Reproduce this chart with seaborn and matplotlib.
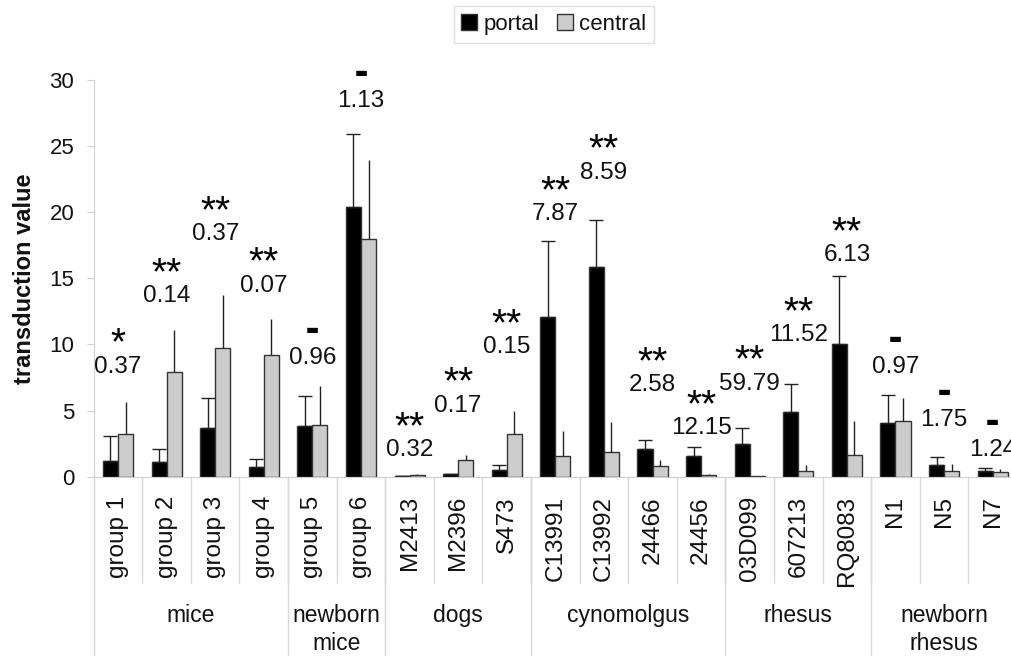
import numpy as np
import pandas as pd
import seaborn as sns
import matplotlib.pyplot as plt
from matplotlib.patches import Patch
from matplotlib.transforms import blended_transform_factory

# Waarden
categories = ['group 1', 'group 2', 'group 3', 'group 4', 'group 5', 'group 6',
              'M2413', 'M2396', 'S473', 'C13991', 'C13992', '24466', '24456',
              '03D099', '607213', 'RQ8083', 'N1', 'N5', 'N7']
portal = [1.21, 1.09, 3.67, 0.71, 3.80, 20.43, 0.04, 0.21, 0.48, 12.10, 15.87,
          2.12, 1.57, 2.45, 4.89, 10.00, 4.10, 0.86, 0.46]
central = [3.22, 7.89, 9.75, 9.20, 3.88, 17.97, 0.12, 1.23, 3.22, 1.53, 1.86,
           0.80, 0.13, 0.04, 0.43, 1.64, 4.23, 0.46, 0.36]
portal_err = [1.84, 1.01, 2.32, 0.63, 2.30, 5.47, 0.05, 0.0, 0.42, 5.74, 3.53,
              0.68, 0.65, 1.21, 2.11, 5.19, 2.10, 0.60, 0.19]
central_err = [2.42, 3.21, 4.01, 2.70, 3.00, 5.99, 0.05, 0.43, 1.78, 1.94, 2.30,
               0.43, 0.07, 0.0, 0.45, 2.57, 1.70, 0.50, 0.20]
ratio_labels = ['0.37', '0.14', '0.37', '0.07', '0.96', '1.13', '0.32', '0.17',
                '0.15', '7.87', '8.59', '2.58', '12.15', '59.79', '11.52',
                '6.13', '0.97', '1.75', '1.24']
signif = ['*', '**', '**', '**', '-', '-', '**', '**', '**', '**', '**', '**',
          '**', '**', '**', '**', '-', '-', '-']
label_y = [8.3, 13.65, 18.35, 14.45, 9.0, 28.45, 2.0, 5.35, 9.8, 19.85,
           23.0, 6.9, 3.68, 7.02, 10.68, 16.75, 8.3, 4.3, 2.0]
groups = ['mice', 'newborn\nmice', 'dogs', 'cynomolgus', 'rhesus', 'newborn\nrhesus']
group_sizes = [4, 2, 3, 4, 3, 3]

df = pd.DataFrame({
    'category': categories * 2,
    'series': ['portal'] * len(categories) + ['central'] * len(categories),
    'value': portal + central,
})

sns.set_style('white')
plt.rcParams['font.family'] = ['Liberation Sans', 'DejaVu Sans']
plt.rcParams['text.color'] = '#111111'
plt.rcParams['axes.labelcolor'] = '#111111'

fig = plt.figure(figsize=(10.11, 6.56), dpi=100)
ax = fig.add_axes([0.0927, 0.2733, 0.9132, 0.6047])

colors = {'portal': '#000000', 'central': '#cccccc'}
sns.barplot(data=df, x='category', y='value', hue='series', order=categories,
            hue_order=['portal', 'central'], palette=colors, width=0.62,
            edgecolor='#333333', linewidth=1, errorbar=None, ax=ax)
ax.legend_.remove()

# Foutbalken alleen naar boven
for cont, errs, cap in zip(ax.containers, [portal_err, central_err], [5, 0]):
    xs = [b.get_x() + b.get_width() / 2 for b in cont]
    hs = [b.get_height() for b in cont]
    ax.errorbar(xs, hs, yerr=[np.zeros(len(errs)), errs], fmt='none',
                ecolor='#222222', elinewidth=1, capsize=cap, capthick=1)

ax.set_xlim(-0.5, len(categories) - 0.5)
ax.set_ylim(0, 30)
ax.set_yticks(range(0, 31, 5))
ax.tick_params(axis='y', labelsize=16, length=5, color='#d0d0d0', labelcolor='#111111',
               pad=9, left=True)
ax.tick_params(axis='x', labelsize=17.5, length=0, pad=14, labelcolor='#111111')
ax.set_xticks(range(len(categories)))
ax.set_xticklabels(categories, rotation=90, va='top')
ax.set_xlabel('')
ax.set_ylabel('transduction value', fontsize=17, fontweight='bold', labelpad=10)

for s in ['top', 'right']:
    ax.spines[s].set_visible(False)
ax.spines['left'].set_color('#d0d0d0')
ax.spines['bottom'].set_color('#d0d0d0')

# Ratio en significantie boven de balken
for i in range(len(categories)):
    ax.text(i, label_y[i], ratio_labels[i], ha='center', va='center',
            fontsize=17.5, clip_on=False)
    if signif[i] == '-':
        ax.annotate('▬', (i, label_y[i]), xytext=(0, 20), textcoords='offset points',
                    ha='center', va='center', fontsize=10, family='DejaVu Sans',
                    color='black', annotation_clip=False)
    else:
        ax.annotate(signif[i], (i, label_y[i]), xytext=(0, 16), textcoords='offset points',
                    ha='center', va='center', fontsize=28, color='black',
                    annotation_clip=False)

# Scheidingslijnen en groepslabels onder de as
trans = blended_transform_factory(ax.transData, ax.transAxes)
for i in range(1, len(categories)):
    ax.plot([i - 0.5, i - 0.5], [0, -0.268], transform=trans, color='#d8d8d8',
            lw=1, clip_on=False)
start = 0
for name, n in zip(groups, group_sizes):
    ax.plot([start - 0.5, start - 0.5], [0, -0.46], transform=trans, color='#d8d8d8',
            lw=1, clip_on=False)
    ax.text(start + (n - 1) / 2, -0.322, name, transform=trans, ha='center', va='top',
            fontsize=16.5, linespacing=1.25)
    start += n

handles = [Patch(facecolor=colors[k], edgecolor='#333333', label=k)
           for k in ['portal', 'central']]
fig.legend(handles=handles, loc='center', bbox_to_anchor=(0.548, 0.963), ncol=2,
           fontsize=16, frameon=True, edgecolor='#d8d8d8', fancybox=False,
           handlelength=0.7, handleheight=0.7, handletextpad=0.3, columnspacing=0.8,
           borderpad=0.35)

fig.savefig('out.png', dpi=100)
